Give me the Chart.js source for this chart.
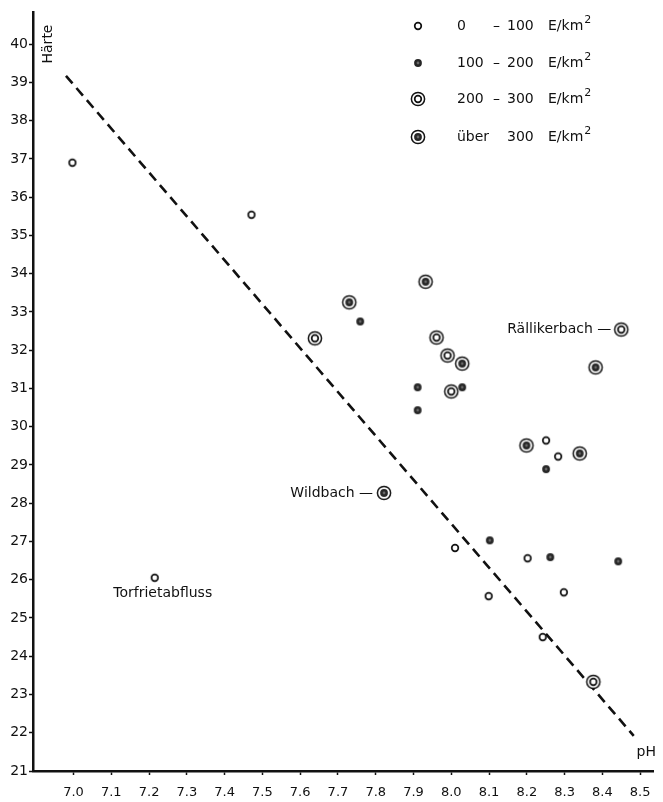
<!DOCTYPE html>
<html>
<head>
<meta charset="utf-8">
<title>Härte und pH</title>
<script src="https://cdn.jsdelivr.net/npm/chart.js@4.4.1/dist/chart.umd.min.js"></script>
<style>
  html, body { margin: 0; padding: 0; background: #fff; }
  #wrap { position: relative; width: 663px; height: 802px; }
</style>
</head>
<body>
<div id="wrap"><canvas id="haerte"></canvas></div>
<script>
// axis ticks
const xTicks = [7.0, 7.1, 7.2, 7.3, 7.4, 7.5, 7.6, 7.7, 7.8, 7.9, 8.0, 8.1, 8.2, 8.3, 8.4, 8.5];
const yTicks = [21, 22, 23, 24, 25, 26, 27, 28, 29, 30, 31, 32, 33, 34, 35, 36, 37, 38, 39, 40];

// 0 - 100 E/km2
const lowPH = [6.997, 7.471, 7.215, 8.01, 8.099, 8.202, 8.242, 8.251, 8.283, 8.298];
const lowHaerte = [36.9, 35.54, 26.05, 26.83, 25.57, 26.56, 24.5, 29.64, 29.22, 25.67];

// 100 - 200 E/km2
const midPH = [7.759, 7.911, 7.911, 8.029, 8.102, 8.251, 8.262, 8.442];
const midHaerte = [32.75, 31.03, 30.43, 31.03, 27.03, 28.89, 26.59, 26.48];

// 200 - 300 E/km2
const highPH = [7.639, 7.961, 7.99, 8.0, 8.45, 8.376];
const highHaerte = [32.31, 32.33, 31.86, 30.92, 32.54, 23.33];

// ueber 300 E/km2
const topPH = [7.73, 7.932, 8.029, 7.822, 8.199, 8.34, 8.382];
const topHaerte = [33.25, 33.79, 31.65, 28.27, 29.51, 29.3, 31.55];

// gestrichelte Gerade
const trendPH = [6.98, 8.483];
const trendHaerte = [39.17, 21.92];

const legendFrom = ['0', '100', '200', 'über'];
const legendTo = ['100', '200', '300', '300'];

const toPoints = (xs, ys) => xs.map((x, i) => ({ x: x, y: ys[i] }));

const FONT = '"DejaVu Sans", sans-serif';
Chart.defaults.font.family = FONT;
Chart.defaults.font.size = 14;
Chart.defaults.color = '#111';

// little canvases for the four symbols
const makeSymbol = (kind) => {
  const c = document.createElement('canvas');
  c.width = 18; c.height = 18;
  const g = c.getContext('2d');
  g.strokeStyle = '#111';
  g.lineWidth = 1.5;
  if (kind === 'ring' || kind === 'ringDot') {
    g.beginPath(); g.arc(9, 9, 6.6, 0, Math.PI * 2); g.fillStyle = '#fff'; g.fill(); g.stroke();
  }
  if (kind === 'open' || kind === 'ring') {
    g.lineWidth = 1.7;
    g.beginPath(); g.arc(9, 9, 3.3, 0, Math.PI * 2); g.fillStyle = '#fff'; g.fill(); g.stroke();
  } else {
    g.beginPath(); g.arc(9, 9, 3.9, 0, Math.PI * 2); g.fillStyle = '#262626'; g.fill();
    g.beginPath(); g.arc(9, 9, 1.4, 0, Math.PI * 2); g.fillStyle = '#6a6a6a'; g.fill();
  }
  return c;
};
const symbols = [makeSymbol('open'), makeSymbol('dot'), makeSymbol('ring'), makeSymbol('ringDot')];

const labelsPlugin = {
  id: 'labels',
  afterDatasetsDraw(chart) {
    const { ctx, scales } = chart;
    const x = scales.x, y = scales.y;
    ctx.save();
    ctx.fillStyle = '#111';
    ctx.font = '14px ' + FONT;
    ctx.textBaseline = 'middle';

    // point names
    ctx.textAlign = 'center';
    ctx.fillText('Torfrietabfluss', x.getPixelForValue(lowPH[2]) + 8, y.getPixelForValue(lowHaerte[2]) + 16);
    ctx.textAlign = 'right';
    ctx.fillText('Wildbach —', x.getPixelForValue(topPH[3]) - 11, y.getPixelForValue(topHaerte[3]));
    ctx.fillText('Rällikerbach —', x.getPixelForValue(highPH[4]) - 10, y.getPixelForValue(highHaerte[4]));

    // axis names
    ctx.fillText('pH', 656, 752);
    ctx.save();
    ctx.translate(48, 44);
    ctx.rotate(-Math.PI / 2);
    ctx.textAlign = 'center';
    ctx.fillText('Härte', 0, 0);
    ctx.restore();

    // legend
    ctx.textAlign = 'left';
    const rows = [26, 63, 99, 137];
    rows.forEach((ry, i) => {
      ctx.drawImage(symbols[i], 418 - 9, ry - 9);
      ctx.fillText(legendFrom[i], 457, ry);
      if (i < 3) ctx.fillText('–', 493, ry);
      ctx.fillText(legendTo[i], 507, ry);
      ctx.fillText('E/km', 548, ry);
      const w = ctx.measureText('E/km').width;
      ctx.font = '11px ' + FONT;
      ctx.fillText('2', 548 + w + 1, ry - 6);
      ctx.font = '14px ' + FONT;
    });
    ctx.restore();
  }
};

const pointSet = (label, xs, ys, sym) => ({
  type: 'scatter',
  label: label,
  data: toPoints(xs, ys),
  pointStyle: sym,
  pointRadius: 9,
  order: 1
});

new Chart(document.getElementById('haerte'), {
  type: 'scatter',
  data: {
    datasets: [
      pointSet('0 - 100 E/km²', lowPH, lowHaerte, symbols[0]),
      pointSet('100 - 200 E/km²', midPH, midHaerte, symbols[1]),
      pointSet('200 - 300 E/km²', highPH, highHaerte, symbols[2]),
      pointSet('über 300 E/km²', topPH, topHaerte, symbols[3]),
      {
        type: 'line',
        label: 'Gerade',
        data: toPoints(trendPH, trendHaerte),
        borderColor: '#111',
        borderWidth: 2.6,
        borderDash: [10, 6],
        pointRadius: 0,
        fill: false,
        order: 10
      }
    ]
  },
  options: {
    responsive: true,
    maintainAspectRatio: false,
    animation: false,
    layout: { padding: { top: 12, right: 3, left: 0, bottom: 0 } },
    plugins: {
      legend: { display: false },
      tooltip: { enabled: false }
    },
    scales: {
      x: {
        type: 'linear',
        min: 6.8927,
        max: 8.534,
        afterBuildTicks: (scale) => { scale.ticks = xTicks.map(v => ({ value: v })); },
        afterFit: (scale) => { scale.height = 31; },
        border: { display: true, color: '#111', width: 2.5 },
        grid: { display: true, drawOnChartArea: false, drawTicks: true, tickLength: 4, tickColor: '#111', tickWidth: 1.5 },
        ticks: {
          autoSkip: false,
          maxRotation: 0,
          padding: 10,
          font: { size: 13 },
          callback: (v) => v.toFixed(1)
        }
      },
      y: {
        type: 'linear',
        min: 21,
        max: 40.84,
        afterBuildTicks: (scale) => { scale.ticks = yTicks.map(v => ({ value: v })); },
        afterFit: (scale) => { scale.width = 33; },
        border: { display: true, color: '#111', width: 2.5 },
        grid: { display: true, drawOnChartArea: false, drawTicks: true, tickLength: 4, tickColor: '#111', tickWidth: 1.5 },
        ticks: {
          autoSkip: false,
          padding: 1,
          font: { size: 14 }
        }
      }
    }
  },
  plugins: [labelsPlugin]
});
</script>
</body>
</html>
